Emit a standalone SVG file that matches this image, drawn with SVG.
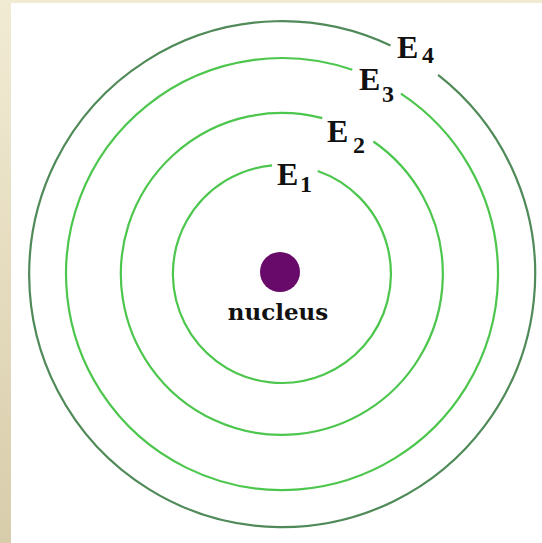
<svg xmlns="http://www.w3.org/2000/svg" width="542" height="543" viewBox="0 0 542 543">
  <defs>
    <linearGradient id="bg" x1="0" y1="0" x2="0" y2="1">
      <stop offset="0" stop-color="#f2ebd4"/>
      <stop offset="1" stop-color="#d8cdab"/>
    </linearGradient>
  </defs>
  <style>
    .orbit { fill: none; stroke-width: 2.2; }
    .inner { stroke: #4cc64c; }
    .outer { stroke: #4f8a58; }
    .lbl { font-family: "Liberation Serif", "Times New Roman", serif; font-weight: bold; fill: #111; }
    .E { font-size: 32px; }
    .sub { font-size: 24px; }
    .nuc { font-family: "DejaVu Serif", serif; font-weight: bold; font-size: 23px; fill: #111; }
  </style>
  <rect x="0" y="0" width="542" height="543" fill="url(#bg)"/>
  <rect x="11" y="3" width="531" height="540" fill="#ffffff"/>

  <g id="connectors">
    <path id="orbit-E1" class="orbit inner" d="M 317.7 171 A 109 109 0 1 1 272.1 165.4"/>
    <path id="orbit-E2" class="orbit inner" d="M 373.4 141.5 A 161 161 0 1 1 322.3 118.1"/>
    <path id="orbit-E3" class="orbit inner" d="M 400.9 93.7 A 216 216 0 1 1 352.3 69.8"/>
    <path id="orbit-E4" class="orbit outer" d="M 438.1 74.9 A 253 253 0 1 1 390.5 45.5"/>
  </g>

  <g id="nucleus">
    <circle cx="280" cy="272" r="20" fill="#680a6a"/>
    <text class="nuc" x="278" y="320" text-anchor="middle">nucleus</text>
  </g>

  <g id="label-E1">
    <text class="lbl E" x="277" y="185">E</text>
    <text class="lbl sub" x="300" y="192">1</text>
  </g>
  <g id="label-E2">
    <text class="lbl E" x="327" y="142">E</text>
    <text class="lbl sub" x="353" y="153">2</text>
  </g>
  <g id="label-E3">
    <text class="lbl E" x="359" y="90">E</text>
    <text class="lbl sub" x="382" y="102">3</text>
  </g>
  <g id="label-E4">
    <text class="lbl E" x="397" y="58">E</text>
    <text class="lbl sub" x="422" y="63">4</text>
  </g>
</svg>
